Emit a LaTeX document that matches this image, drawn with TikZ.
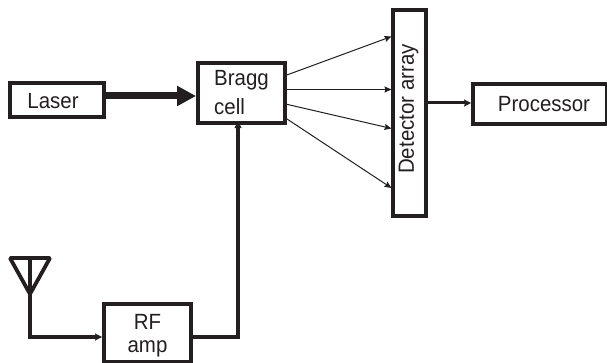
\documentclass[tikz,border=0pt]{standalone}
\usepackage{fontspec}
\setmainfont[FakeStretch=0.93]{Liberation Sans}
\usetikzlibrary{arrows.meta}
\definecolor{ink}{HTML}{231F20}
\tikzset{
  x=1pt,y=-1pt,
  blockbox/.style={draw=ink,line width=3.8pt,outer sep=0pt,text=ink,inner sep=0pt,anchor=north west,font=\fontsize{22}{29}\selectfont,align=left},
  thinarrow/.style={draw=ink,line width=1pt,-{Stealth[length=7pt,width=6pt,inset=1pt]}},
  medarrow/.style={draw=ink,line width=3pt,-{Stealth[length=7pt,width=7pt,inset=1pt]}},
  fatarrow/.style={draw=ink,line width=7pt,-{Triangle[length=19pt,width=19pt]},shorten >=0pt},
  wire/.style={draw=ink,line width=3.8pt,line join=miter}
}
\begin{document}
\begin{tikzpicture}
\useasboundingbox (0,0) rectangle (607,363);
\node[blockbox,minimum width=94pt,minimum height=34pt] (laser) at (10,83) {\hspace*{-8pt}\rule{0pt}{18pt}Laser};
\node[blockbox,minimum width=87pt,minimum height=60pt] (bragg) at (198,63) {Bragg\\cell};
\node[blockbox,minimum width=33pt,minimum height=206pt] (det) at (393,10) {};
\node[text=ink,font=\fontsize{22}{29}\selectfont,rotate=90,inner sep=0pt] (detlabel) at (408.5,109) {Detector array};
\node[blockbox,minimum width=134pt,minimum height=40pt] (proc) at (473,84) {\hspace*{8pt}Processor};
\node[blockbox,minimum width=87pt,minimum height=58pt,align=center] (rf) at (104,304) {\rule{0pt}{20pt}RF\\[-6pt]amp};
\coordinate (apex) at (30,294);
\coordinate (tl) at (10,258);
\coordinate (tr) at (50,258);
\coordinate (top) at (30,258);
\coordinate (bend) at (30,337);
\coordinate (s1) at (285.5,75.5); \coordinate (e1) at (391.5,36.5);
\coordinate (s2) at (285.5,89.5); \coordinate (e2) at (391.5,89.5);
\coordinate (s3) at (285.5,104); \coordinate (e3) at (391.5,128.5);
\coordinate (s4) at (285.5,118); \coordinate (e4) at (391.5,188);
% antenna
\draw[wire,line join=bevel] (tl) -- (tr) -- (apex) -- cycle;
\draw[wire] (top) -- (apex);
\draw[medarrow,line width=3.8pt] (top) -- (bend) -- ([xshift=-1.9pt]rf.west |- bend);
% RF to Bragg
\draw[medarrow,line width=3.8pt] ([xshift=1.9pt]rf.east |- bend) -| ([xshift=-3.5pt,yshift=1.9pt]bragg.south);
% Laser to Bragg
\draw[fatarrow] ([xshift=1.9pt]laser.east |- 0,96) -- ([xshift=-1.9pt]bragg.west |- 0,96);
% fan
\draw[thinarrow] (s1) -- (e1);
\draw[thinarrow] (s2) -- (e2);
\draw[thinarrow] (s3) -- (e3);
\draw[thinarrow] (s4) -- (e4);
% output
\draw[medarrow] ([xshift=1.9pt]det.east |- 0,103) -- ([xshift=-1.9pt]proc.west |- 0,103);
\end{tikzpicture}
\end{document}
